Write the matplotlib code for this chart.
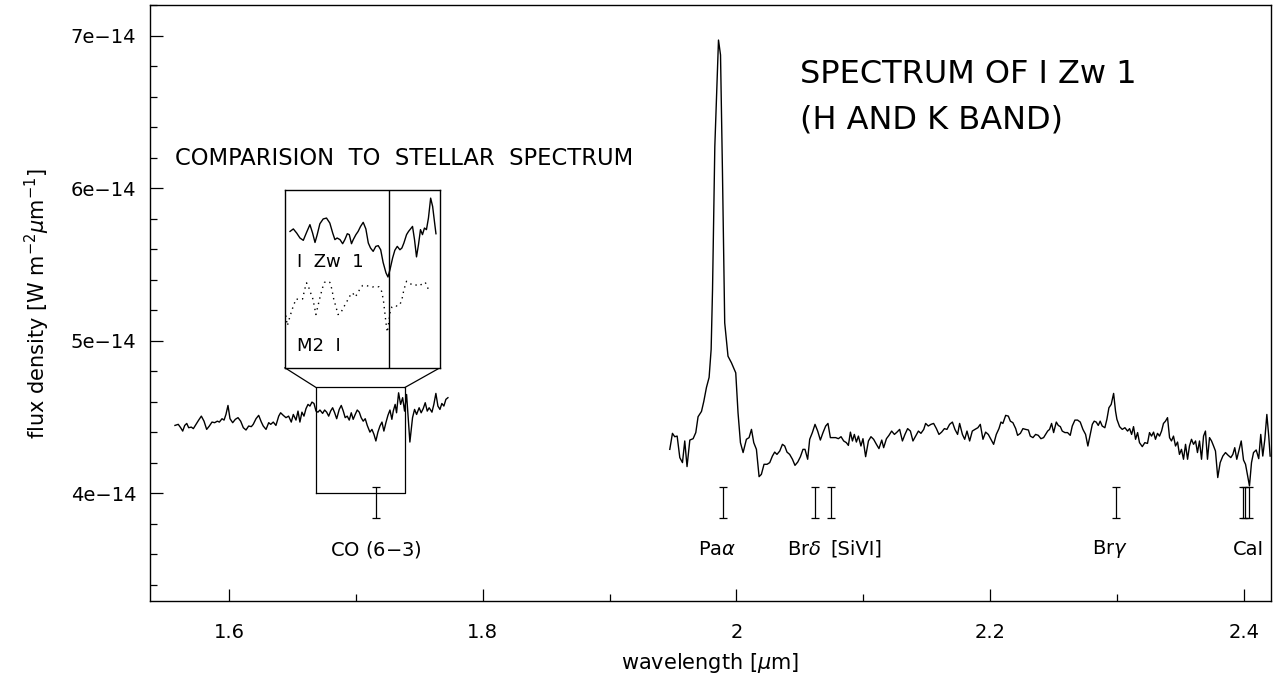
import numpy as np
import matplotlib.pyplot as plt
from matplotlib.ticker import MultipleLocator, FuncFormatter

plt.rcParams['font.family'] = ['DejaVu Sans']

# ---------------------------------------------------------
# Data (flux in units of 1e-14 W m^-2 um^-1, wavelength in um)
# ---------------------------------------------------------
# H band segment
h_wl = [1.5574, 1.5600, 1.5619, 1.5635, 1.5651, 1.5667, 1.5682, 1.5703, 1.5719, 1.5740,
        1.5761, 1.5782, 1.5803, 1.5824, 1.5845, 1.5866, 1.5887, 1.5908, 1.5924, 1.5945,
        1.5961, 1.5976, 1.5992, 1.6008, 1.6029, 1.6050, 1.6071, 1.6092, 1.6113, 1.6134,
        1.6155, 1.6176, 1.6191, 1.6213, 1.6234, 1.6255, 1.6270, 1.6292, 1.6313, 1.6329,
        1.6349, 1.6370, 1.6392, 1.6407, 1.6428, 1.6449, 1.6470, 1.6491, 1.6507, 1.6528,
        1.6544, 1.6559, 1.6575, 1.6591, 1.6607, 1.6623, 1.6638, 1.6654, 1.6670, 1.6686,
        1.6701, 1.6717, 1.6738, 1.6754, 1.6770, 1.6786, 1.6801, 1.6817, 1.6833, 1.6849,
        1.6869, 1.6885, 1.6901, 1.6916, 1.6932, 1.6948, 1.6964, 1.6979, 1.6995, 1.7011,
        1.7027, 1.7042, 1.7058, 1.7074, 1.7090, 1.7111, 1.7127, 1.7143, 1.7158, 1.7174,
        1.7190, 1.7206, 1.7221, 1.7237, 1.7253, 1.7269, 1.7284, 1.7295, 1.7310, 1.7321,
        1.7337, 1.7353, 1.7369, 1.7384, 1.7400, 1.7426, 1.7447, 1.7463, 1.7479, 1.7499,
        1.7515, 1.7531, 1.7547, 1.7563, 1.7578, 1.7600, 1.7615, 1.7631, 1.7647, 1.7663,
        1.7678, 1.7694, 1.7710, 1.7726]
h_flux = [4.445, 4.452, 4.430, 4.408, 4.445, 4.458, 4.430, 4.434, 4.424, 4.452,
          4.480, 4.506, 4.473, 4.419, 4.441, 4.467, 4.463, 4.473, 4.467, 4.489,
          4.480, 4.517, 4.576, 4.489, 4.463, 4.485, 4.496, 4.473, 4.430, 4.415,
          4.441, 4.437, 4.452, 4.489, 4.511, 4.467, 4.441, 4.419, 4.463, 4.452,
          4.467, 4.445, 4.506, 4.528, 4.511, 4.496, 4.506, 4.467, 4.517, 4.480,
          4.539, 4.467, 4.532, 4.506, 4.555, 4.583, 4.572, 4.598, 4.589, 4.539,
          4.532, 4.546, 4.524, 4.546, 4.532, 4.506, 4.539, 4.561, 4.528, 4.489,
          4.550, 4.576, 4.539, 4.496, 4.506, 4.480, 4.528, 4.485, 4.517, 4.546,
          4.532, 4.496, 4.473, 4.489, 4.445, 4.401, 4.419, 4.386, 4.343, 4.401,
          4.441, 4.467, 4.408, 4.463, 4.511, 4.546, 4.485, 4.539, 4.583, 4.528,
          4.659, 4.583, 4.627, 4.539, 4.648, 4.336, 4.496, 4.550, 4.517, 4.561,
          4.528, 4.555, 4.594, 4.539, 4.561, 4.532, 4.583, 4.655, 4.572, 4.550,
          4.589, 4.572, 4.616, 4.627]

# K band segment
k_wl = [1.9475, 1.9496, 1.9514, 1.9533, 1.9554, 1.9575, 1.9593, 1.9611, 1.9633, 1.9659,
        1.9680, 1.9698, 1.9725, 1.9743, 1.9764, 1.9785, 1.9801, 1.9812, 1.9830, 1.9848,
        1.9859, 1.9875, 1.9890, 1.9908, 1.9934, 1.9961, 1.9995, 2.0013, 2.0032, 2.0053,
        2.0079, 2.0100, 2.0119, 2.0137, 2.0158, 2.0179, 2.0197, 2.0218, 2.0242, 2.0263,
        2.0284, 2.0302, 2.0320, 2.0342, 2.0363, 2.0381, 2.0399, 2.0420, 2.0442, 2.0462,
        2.0484, 2.0505, 2.0525, 2.0541, 2.0562, 2.0578, 2.0599, 2.0620, 2.0641, 2.0662,
        2.0683, 2.0704, 2.0722, 2.0741, 2.0762, 2.0783, 2.0804, 2.0825, 2.0846, 2.0867,
        2.0883, 2.0899, 2.0915, 2.0930, 2.0946, 2.0962, 2.0982, 2.0998, 2.1019, 2.1041,
        2.1061, 2.1082, 2.1104, 2.1124, 2.1146, 2.1161, 2.1183, 2.1203, 2.1224, 2.1246,
        2.1266, 2.1287, 2.1309, 2.1329, 2.1350, 2.1372, 2.1392, 2.1413, 2.1435, 2.1455,
        2.1477, 2.1492, 2.1513, 2.1534, 2.1555, 2.1577, 2.1597, 2.1618, 2.1640, 2.1660,
        2.1681, 2.1703, 2.1723, 2.1744, 2.1760, 2.1782, 2.1800, 2.1818, 2.1839, 2.1860,
        2.1881, 2.1904, 2.1923, 2.1944, 2.1965, 2.1986, 2.2007, 2.2028, 2.2049, 2.2070,
        2.2086, 2.2101, 2.2123, 2.2144, 2.2160, 2.2180, 2.2202, 2.2217, 2.2239, 2.2259,
        2.2280, 2.2302, 2.2317, 2.2338, 2.2359, 2.2380, 2.2401, 2.2422, 2.2438, 2.2454,
        2.2469, 2.2485, 2.2501, 2.2522, 2.2538, 2.2554, 2.2569, 2.2590, 2.2611, 2.2632,
        2.2648, 2.2669, 2.2690, 2.2711, 2.2732, 2.2753, 2.2771, 2.2790, 2.2806, 2.2821,
        2.2837, 2.2853, 2.2868, 2.2884, 2.2905, 2.2921, 2.2937, 2.2955, 2.2974, 2.2989,
        2.3000, 2.3021, 2.3042, 2.3063, 2.3084, 2.3100, 2.3116, 2.3131, 2.3147, 2.3163,
        2.3178, 2.3200, 2.3220, 2.3241, 2.3257, 2.3273, 2.3289, 2.3304, 2.3320, 2.3336,
        2.3352, 2.3367, 2.3383, 2.3399, 2.3415, 2.3430, 2.3446, 2.3462, 2.3478, 2.3493,
        2.3509, 2.3525, 2.3541, 2.3557, 2.3572, 2.3588, 2.3604, 2.3620, 2.3635, 2.3651,
        2.3667, 2.3683, 2.3698, 2.3714, 2.3730, 2.3746, 2.3762, 2.3777, 2.3795, 2.3814,
        2.3835, 2.3856, 2.3877, 2.3898, 2.3914, 2.3929, 2.3945, 2.3961, 2.3980, 2.3998,
        2.4014, 2.4030, 2.4045, 2.4061, 2.4077, 2.4098, 2.4118, 2.4134, 2.4150, 2.4166,
        2.4182, 2.4197, 2.4208]
k_flux = [4.288, 4.393, 4.371, 4.375, 4.234, 4.201, 4.343, 4.175, 4.349, 4.358,
          4.398, 4.502, 4.537, 4.602, 4.694, 4.760, 4.943, 5.336, 6.274, 6.711,
          6.973, 6.875, 6.122, 5.118, 4.899, 4.856, 4.790, 4.528, 4.332, 4.267,
          4.354, 4.365, 4.419, 4.332, 4.288, 4.109, 4.124, 4.190, 4.190, 4.201,
          4.244, 4.270, 4.255, 4.277, 4.321, 4.310, 4.270, 4.255, 4.223, 4.183,
          4.205, 4.240, 4.288, 4.288, 4.223, 4.354, 4.398, 4.452, 4.408, 4.349,
          4.398, 4.441, 4.458, 4.365, 4.365, 4.365, 4.358, 4.371, 4.343, 4.332,
          4.314, 4.401, 4.343, 4.386, 4.336, 4.375, 4.310, 4.358, 4.240, 4.343,
          4.371, 4.354, 4.321, 4.293, 4.349, 4.299, 4.358, 4.380, 4.408, 4.386,
          4.401, 4.419, 4.343, 4.386, 4.424, 4.408, 4.343, 4.375, 4.408, 4.393,
          4.419, 4.458, 4.441, 4.452, 4.458, 4.424, 4.386, 4.401, 4.424, 4.419,
          4.452, 4.467, 4.419, 4.386, 4.458, 4.386, 4.354, 4.408, 4.343, 4.408,
          4.419, 4.430, 4.452, 4.354, 4.401, 4.386, 4.354, 4.321, 4.386, 4.424,
          4.467, 4.458, 4.511, 4.506, 4.473, 4.463, 4.424, 4.380, 4.393, 4.424,
          4.419, 4.415, 4.375, 4.365, 4.386, 4.380, 4.358, 4.365, 4.386, 4.408,
          4.419, 4.458, 4.398, 4.467, 4.445, 4.437, 4.408, 4.398, 4.398, 4.380,
          4.441, 4.480, 4.480, 4.467, 4.419, 4.386, 4.310, 4.386, 4.452, 4.473,
          4.467, 4.445, 4.473, 4.441, 4.430, 4.485, 4.561, 4.583, 4.655, 4.539,
          4.485, 4.437, 4.419, 4.430, 4.408, 4.424, 4.386, 4.437, 4.354, 4.398,
          4.332, 4.306, 4.332, 4.327, 4.398, 4.375, 4.401, 4.354, 4.393, 4.375,
          4.408, 4.458, 4.473, 4.496, 4.365, 4.343, 4.375, 4.310, 4.336, 4.255,
          4.288, 4.223, 4.321, 4.223, 4.310, 4.354, 4.321, 4.343, 4.267, 4.343,
          4.223, 4.375, 4.408, 4.223, 4.365, 4.343, 4.310, 4.277, 4.103, 4.201,
          4.244, 4.267, 4.249, 4.234, 4.255, 4.299, 4.223, 4.277, 4.343, 4.218,
          4.190, 4.118, 4.048, 4.201, 4.267, 4.284, 4.227, 4.386, 4.244, 4.354,
          4.517, 4.375, 4.244]

# inset: zoom of the CO (6-3) region, relative flux (0 = bottom, 1 = top of inset)
izw1_wl = [1.6709, 1.6724, 1.6739, 1.6754, 1.6769, 1.6784, 1.6799, 1.6811, 1.6822, 1.6832,
           1.6844, 1.6859, 1.6874, 1.6889, 1.6902, 1.6912, 1.6922, 1.6935, 1.6947, 1.6957,
           1.6968, 1.6977, 1.6987, 1.6995, 1.7007, 1.7017, 1.7028, 1.7040, 1.7052, 1.7063,
           1.7073, 1.7085, 1.7097, 1.7108, 1.7119, 1.7130, 1.7143, 1.7152, 1.7161, 1.7173,
           1.7183, 1.7194, 1.7206, 1.7215, 1.7224, 1.7236, 1.7245, 1.7254, 1.7263, 1.7272,
           1.7281, 1.7290, 1.7299, 1.7308, 1.7317, 1.7326, 1.7335, 1.7345, 1.7354, 1.7363,
           1.7369]
izw1_rel = [0.766, 0.780, 0.757, 0.729, 0.716, 0.761, 0.804, 0.757, 0.704, 0.748,
            0.809, 0.836, 0.841, 0.813, 0.757, 0.720, 0.729, 0.720, 0.697, 0.720,
            0.753, 0.748, 0.697, 0.720, 0.748, 0.766, 0.794, 0.817, 0.780, 0.701,
            0.673, 0.654, 0.682, 0.686, 0.663, 0.592, 0.533, 0.510, 0.551, 0.617,
            0.660, 0.682, 0.663, 0.673, 0.701, 0.748, 0.766, 0.780, 0.794, 0.720,
            0.623, 0.692, 0.776, 0.748, 0.785, 0.776, 0.841, 0.953, 0.906, 0.813,
            0.753]
m2_wl = [1.6686, 1.6688, 1.6697, 1.6709, 1.6721, 1.6736, 1.6751, 1.6766, 1.6775, 1.6784,
         1.6793, 1.6802, 1.6811, 1.6819, 1.6826, 1.6835, 1.6844, 1.6856, 1.6865, 1.6877,
         1.6889, 1.6898, 1.6907, 1.6916, 1.6926, 1.6938, 1.6950, 1.6962, 1.6971, 1.6983,
         1.6992, 1.7004, 1.7016, 1.7025, 1.7037, 1.7052, 1.7067, 1.7082, 1.7097, 1.7112,
         1.7123, 1.7131, 1.7137, 1.7143, 1.7149, 1.7155, 1.7161, 1.7170, 1.7182, 1.7194,
         1.7206, 1.7215, 1.7224, 1.7236, 1.7248, 1.7260, 1.7272, 1.7284, 1.7296, 1.7308,
         1.7320, 1.7329, 1.7335]
m2_rel = [0.387, 0.308, 0.237, 0.290, 0.336, 0.387, 0.383, 0.387, 0.439, 0.477,
          0.454, 0.421, 0.393, 0.346, 0.299, 0.346, 0.393, 0.449, 0.480, 0.486,
          0.480, 0.443, 0.383, 0.346, 0.299, 0.308, 0.336, 0.364, 0.383, 0.411,
          0.421, 0.398, 0.421, 0.443, 0.462, 0.462, 0.458, 0.454, 0.458, 0.454,
          0.430, 0.383, 0.318, 0.252, 0.200, 0.252, 0.308, 0.342, 0.350, 0.346,
          0.355, 0.383, 0.439, 0.486, 0.477, 0.467, 0.462, 0.467, 0.462, 0.473,
          0.480, 0.462, 0.436]

# line identifications
co_wl = 1.7158
line_wl = [co_wl, 1.9895, 2.0623, 2.0749, 2.2989, 2.3993, 2.4011, 2.4039]
label_text = ['CO (6$-$3)', 'Pa$\\alpha$', 'Br$\\delta$', '[SiVI]', 'Br$\\gamma$', 'CaI']
label_wl = [1.7158, 1.9851, 2.0531, 2.0946, 2.2942, 2.4035]

# zoom box (main axes) and inset placement
box_wl = (1.6686, 1.7387)
box_flux = (4.0, 4.694)
inset_wl = (1.6441, 1.7663)
inset_flux = (4.823, 5.991)

# ---------------------------------------------------------
# Figure
# ---------------------------------------------------------
fig = plt.figure(figsize=(12.84, 6.76), dpi=100)
ax = fig.add_axes([0.1168, 0.1109, 0.8731, 0.8817])

ax.plot(h_wl, h_flux, '-k', lw=1.0)
ax.plot(k_wl, k_flux, '-k', lw=1.0)

# I-beam line markers
ax.errorbar(line_wl, [3.9375] * len(line_wl), yerr=0.1015, fmt='none',
            ecolor='k', elinewidth=0.9, capsize=3, capthick=0.9)
for txt, xw in zip(label_text, label_wl):
    ax.text(xw, 3.633, txt, ha='center', va='center', fontsize=14)

# zoom box and connectors
bx0, bx1 = box_wl
by0, by1 = box_flux
ax.plot([bx0, bx1, bx1, bx0, bx0], [by0, by0, by1, by1, by0], '-k', lw=0.9)
ax.plot([inset_wl[0], bx0], [inset_flux[0], by1], '-k', lw=0.9)
ax.plot([inset_wl[1], bx1], [inset_flux[0], by1], '-k', lw=0.9)

ax.set_xlim(1.5377, 2.4215)
ax.set_ylim(3.293, 7.203)
ax.xaxis.set_major_locator(MultipleLocator(0.2))
ax.xaxis.set_minor_locator(MultipleLocator(0.1))
ax.yaxis.set_major_locator(MultipleLocator(1.0))
ax.yaxis.set_minor_locator(MultipleLocator(0.2))
ax.xaxis.set_major_formatter(FuncFormatter(lambda v, p: f'{v:g}'))
ax.yaxis.set_major_formatter(FuncFormatter(lambda v, p: f'{v:.0f}e\u221214'))
ax.tick_params(which='both', direction='in', top=False, right=False, labelsize=14)
ax.tick_params(which='major', length=9, width=0.9, pad=10)
ax.tick_params(which='minor', length=5, width=0.9)
ax.tick_params(axis='x', which='major', pad=16)
for s in ax.spines.values():
    s.set_linewidth(1.0)

ax.set_xlabel('wavelength [$\\mu$m]', fontsize=15, labelpad=6)
ax.set_ylabel('flux density [W m$^{-2}$$\\mu$m$^{-1}$]', fontsize=15, labelpad=13)

ax.text(0.580, 0.8826, 'SPECTRUM OF I Zw 1', transform=ax.transAxes,
        fontsize=23, ha='left', va='center')
ax.text(0.580, 0.807, '(H AND K BAND)', transform=ax.transAxes,
        fontsize=23, ha='left', va='center')
ax.text(0.0223, 0.7433, 'COMPARISION  TO  STELLAR  SPECTRUM', transform=ax.transAxes,
        fontsize=16.3, ha='left', va='center')

# inset
axin = ax.inset_axes([inset_wl[0], inset_flux[0], inset_wl[1] - inset_wl[0],
                      inset_flux[1] - inset_flux[0]], transform=ax.transData)
axin.plot(izw1_wl, izw1_rel, '-k', lw=1.0)
axin.plot(m2_wl, m2_rel, color='k', lw=1.0, linestyle=(0, (1, 3)))
axin.axvline(co_wl, color='k', lw=1.0)
axin.set_xlim(*box_wl)
axin.set_ylim(0, 1)
axin.set_xticks([])
axin.set_yticks([])
for s in axin.spines.values():
    s.set_linewidth(1.0)
axin.text(1.6740, 0.596, 'I  Zw  1', fontsize=13, ha='left', va='center')
axin.text(1.6740, 0.125, 'M2  I', fontsize=13, ha='left', va='center')

fig.savefig('out.png', dpi=100)
